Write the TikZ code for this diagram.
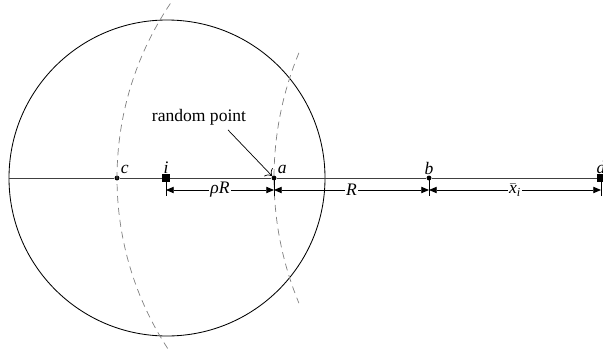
\documentclass[tikz,border=0pt]{standalone}
\usepackage{amsmath}
\usepackage{fontspec}
\setmainfont{Liberation Serif}
\usetikzlibrary{positioning,arrows.meta}

\begin{document}
\begin{tikzpicture}[
    font=\fontsize{12.5}{15}\selectfont,
    dot/.style={circle, fill=black, inner sep=0pt, minimum size=3.5pt},
    sq/.style={rectangle, fill=black, inner sep=0pt, minimum size=5pt},
    ptlabel/.style={label distance=-3pt},
    arcline/.style={gray, dash pattern=on 5pt off 3.5pt, line width=0.5pt},
    dim/.style={{Triangle[length=5.5pt,width=4.5pt]}-{Triangle[length=5.5pt,width=4.5pt]}, line width=0.6pt},
    dimlabel/.style={fill=white, inner sep=1pt}
  ]
  % Frame
  \useasboundingbox (0,-4.55) rectangle (15.075,4.45);

  % Circle
  \node[draw, circle, minimum size=7.9cm, inner sep=0pt, line width=0.6pt] (disk) at (4.175,0) {};

  % Points on the axis
  \node[dot, label={[ptlabel]above right:\textit{c}}] (c) at (2.925,0) {};
  \node[sq, label={[ptlabel]above:\textit{i}}] (i) at (4.15,0) {};
  \node[dot, label={[ptlabel]above right:\textit{a}}] (a) at (6.85,0) {};
  \node[dot, label={[ptlabel]above:\textit{b}}] (b) at (10.725,0) {};
  \node[sq, label={[ptlabel]above:\textit{d}}] (d) at (15.025,0) {};

  % Axis
  \draw[black!75, line width=0.7pt] (disk.west) -- (c) -- (i) -- (a) -- (b) -- (d);

  % Dashed arcs
  \draw[arcline] (b.center) ++(146:7.8) arc[start angle=146, end angle=214, radius=7.8];
  \draw[arcline] (d.center) ++(157.5:8.175) arc[start angle=157.5, end angle=202.5, radius=8.175];

  % Dimensions
  \foreach \p in {i,a,b,d}
    \draw[line width=0.6pt] (\p.center) -- ++(0,-0.45);
  \draw[dim] ([yshift=-0.3cm]i.center) -- node[dimlabel] {\textit{ρR}} ([yshift=-0.3cm]a.center);
  \draw[dim] ([yshift=-0.3cm]a.center) -- node[dimlabel] {\textit{R}} ([yshift=-0.3cm]b.center);
  \draw[dim] ([yshift=-0.3cm]b.center) -- node[dimlabel] {$\bar{\textit{x}}_{\textit{i}}$} ([yshift=-0.3cm]d.center);

  % Random point
  \node (rp) at (4.975,1.525) {random point};
  \draw[-{To[length=4pt]}, line width=0.5pt] ([xshift=0.725cm]rp.south) -- (a);
\end{tikzpicture}
\end{document}
